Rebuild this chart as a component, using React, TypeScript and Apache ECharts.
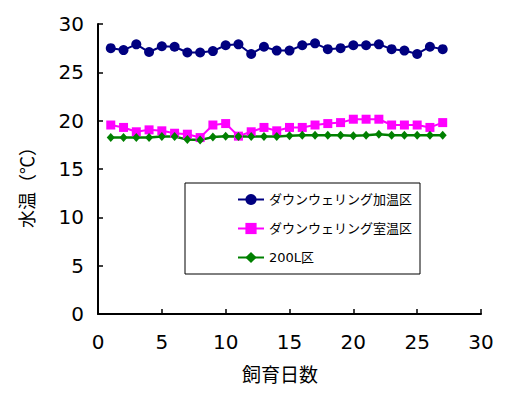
import React, { useEffect, useRef } from "react";
import * as echarts from "echarts";

const days = [1, 2, 3, 4, 5, 6, 7, 8, 9, 10, 11, 12, 13, 14, 15, 16, 17, 18, 19, 20, 21, 22, 23, 24, 25, 26, 27];
const heated = [27.5, 27.3, 27.9, 27.1, 27.7, 27.65, 27.05, 27.05, 27.2, 27.8, 27.9, 26.9, 27.65, 27.25, 27.25, 27.8, 28.0, 27.4, 27.5, 27.8, 27.8, 27.9, 27.4, 27.25, 26.9, 27.65, 27.4];
const roomTemp = [19.55, 19.3, 18.85, 19.05, 18.95, 18.7, 18.6, 18.25, 19.55, 19.7, 18.4, 18.85, 19.3, 18.95, 19.3, 19.3, 19.55, 19.7, 19.8, 20.15, 20.15, 20.15, 19.55, 19.55, 19.55, 19.3, 19.8];
const tank200 = [18.25, 18.25, 18.25, 18.25, 18.35, 18.35, 18.05, 18.0, 18.3, 18.4, 18.35, 18.35, 18.35, 18.35, 18.45, 18.5, 18.5, 18.5, 18.5, 18.45, 18.5, 18.6, 18.5, 18.5, 18.5, 18.5, 18.5];
const seriesNames = ["ダウンウェリング加温区", "ダウンウェリング室温区", "200L区"];
const xName = "飼育日数";
const yName = "水温（℃）";

export default function App() {
  const ref = useRef<HTMLDivElement>(null);
  useEffect(() => {
    if (!ref.current) return;
    const chart = echarts.init(ref.current, null, { renderer: "svg" });
    const pairs = (vals: number[]) => days.map((d, i) => [d, vals[i]]);
    const axisFont = { fontFamily: "DejaVu Sans", fontSize: 20, color: "#000" };
    chart.setOption({
      animation: false,
      backgroundColor: "#fff",
      grid: { left: 98, top: 24, right: 25, bottom: 84, containLabel: false },
      xAxis: {
        type: "value",
        min: 0,
        max: 30,
        interval: 5,
        axisLine: { show: true, lineStyle: { color: "#000", width: 2 } },
        axisTick: { show: true, inside: true, length: 5, lineStyle: { color: "#000", width: 1.5 } },
        axisLabel: { ...axisFont, margin: 18 },
        splitLine: { show: false },
      },
      yAxis: {
        type: "value",
        min: 0,
        max: 30,
        interval: 5,
        axisLine: { show: true, lineStyle: { color: "#000", width: 2 } },
        axisTick: { show: true, inside: true, length: 5, lineStyle: { color: "#000", width: 1.5 } },
        axisLabel: { ...axisFont, margin: 14 },
        splitLine: { show: false },
      },
      legend: {
        orient: "vertical",
        left: 185,
        top: 183,
        padding: [10, 8, 10, 52],
        itemGap: 16,
        itemWidth: 26,
        itemHeight: 14,
        borderColor: "#000",
        borderWidth: 1,
        backgroundColor: "#fff",
        textStyle: { fontFamily: "'DejaVu Sans', 'Noto Sans CJK JP'", fontSize: 13, color: "#000" },
        data: seriesNames,
      },
      graphic: [
        {
          type: "text",
          x: 26,
          y: 183,
          rotation: Math.PI / 2,
          style: {
            text: yName,
            font: "18px 'Noto Sans CJK JP'",
            fill: "#000",
            textAlign: "center",
            textVerticalAlign: "middle",
          },
        },
        {
          type: "text",
          x: 280,
          y: 373,
          style: {
            text: xName,
            font: "19px 'Noto Sans CJK JP'",
            fill: "#000",
            textAlign: "center",
            textVerticalAlign: "middle",
          },
        },
      ],
      series: [
        {
          name: seriesNames[0],
          type: "line",
          data: pairs(heated),
          symbol: "circle",
          symbolSize: 10,
          itemStyle: { color: "#000080" },
          lineStyle: { color: "#000080", width: 2 },
        },
        {
          name: seriesNames[1],
          type: "line",
          data: pairs(roomTemp),
          symbol: "rect",
          symbolSize: 9,
          itemStyle: { color: "#FF00FF" },
          lineStyle: { color: "#FF00FF", width: 2 },
        },
        {
          name: seriesNames[2],
          type: "line",
          data: pairs(tank200),
          symbol: "diamond",
          symbolSize: [8, 9],
          itemStyle: { color: "#008000" },
          lineStyle: { color: "#008000", width: 2.5 },
        },
      ],
    });
    return () => chart.dispose();
  }, []);
  return (
    <div
      ref={ref}
      style={{ position: "absolute", left: 0, top: 0, width: 506, height: 398 }}
    />
  );
}
